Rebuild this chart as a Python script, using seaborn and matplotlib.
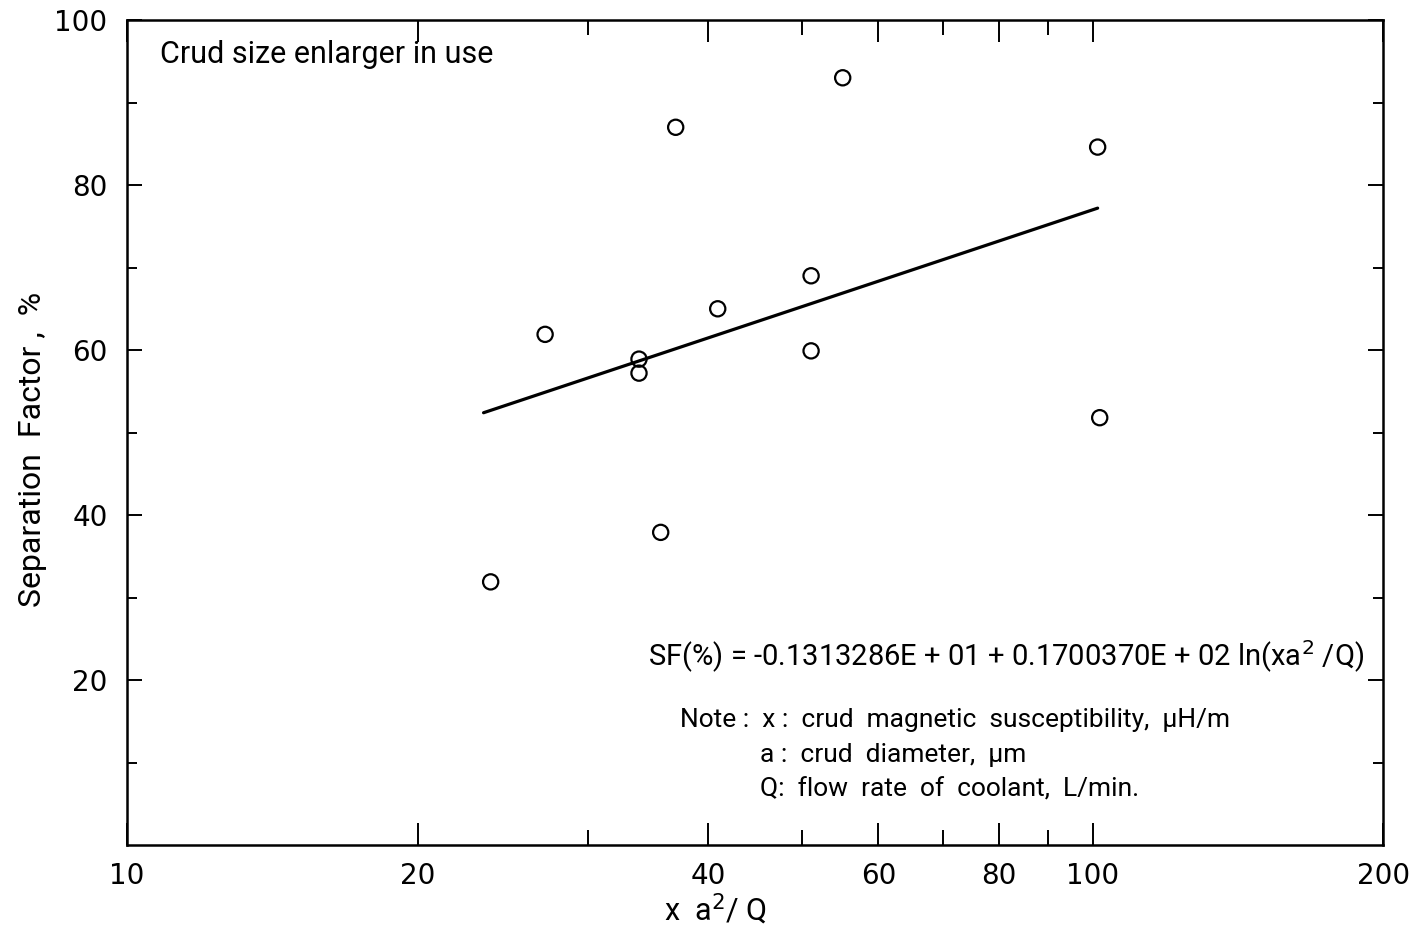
import numpy as np
import pandas as pd
import matplotlib
matplotlib.use("Agg")
import matplotlib.pyplot as plt
from matplotlib.ticker import FixedLocator, NullFormatter
import seaborn as sns

# measured points: x * a^2 / Q  vs separation factor (%)
xa2q = [23.8, 27.1, 33.9, 33.9, 35.7, 37.0, 40.9, 51.1, 51.1, 55.1, 101.2, 101.7]
sep_factor = [31.9, 61.9, 58.9, 57.2, 37.9, 87.0, 65.0, 69.0, 59.9, 93.0, 84.6, 51.8]

# regression line end points
fit_x = [23.4, 101.2]
fit_y = [52.4, 77.2]

x_major = [10, 20, 40, 60, 80, 100, 200]
x_minor = [30, 50, 70, 90]
y_major = [20, 40, 60, 80, 100]
y_minor = [10, 30, 50, 70, 90]

sns.set_style("ticks")
plt.rcParams['font.family'] = ['DejaVu Sans']
plt.rcParams['text.color'] = 'black'
plt.rcParams['axes.labelcolor'] = 'black'
plt.rcParams['xtick.color'] = 'black'
plt.rcParams['ytick.color'] = 'black'
narrow = ['Roboto', 'DejaVu Sans']

df = pd.DataFrame({'x': xa2q, 'sf': sep_factor})
fit = pd.DataFrame({'x': fit_x, 'sf': fit_y})

fig = plt.figure(figsize=(14.13, 9.32), dpi=100)
ax = fig.add_axes([0.0899, 0.0933, 0.8891, 0.8852])

sns.lineplot(data=fit, x='x', y='sf', ax=ax, color='black', linewidth=2.3)
sns.scatterplot(data=df, x='x', y='sf', ax=ax, marker='o', s=120,
                facecolor='none', edgecolor='black', linewidth=1.6)

ax.set_xscale('log')
ax.set_xlim(10, 200)
ax.set_ylim(0, 100)

ax.xaxis.set_major_locator(FixedLocator(x_major))
ax.xaxis.set_minor_locator(FixedLocator(x_minor))
ax.set_xticklabels([str(v) for v in x_major])
ax.xaxis.set_minor_formatter(NullFormatter())
ax.yaxis.set_major_locator(FixedLocator(y_major))
ax.yaxis.set_minor_locator(FixedLocator(y_minor))
ax.set_yticklabels([str(v) for v in y_major])

ax.tick_params(axis='x', which='major', direction='in', length=16, width=1.4,
               top=True, labelsize=20, pad=12)
ax.tick_params(axis='x', which='minor', direction='in', length=11, width=1.4, top=True)
ax.tick_params(axis='y', which='major', direction='in', length=11, width=1.4,
               right=True, labelsize=20, pad=14)
ax.tick_params(axis='y', which='minor', direction='in', length=7, width=1.4, right=True)

for sp in ax.spines.values():
    sp.set_linewidth(1.8)
    sp.set_color('black')

ax.set_xlabel('x  a$^2$/ Q', fontsize=22, family=narrow)
ax.xaxis.set_label_coords(0.468, -0.056)
ax.set_ylabel('Separation  Factor ,  %', fontsize=23, family=narrow)
ax.yaxis.set_label_coords(-0.064, 0.479)

ax.text(0.026, 0.958, 'Crud size enlarger in use', transform=ax.transAxes,
        fontsize=22, family=narrow, va='center', ha='left')
ax.text(0.415, 0.228, 'SF(%) = -0.1313286E + 01 + 0.1700370E + 02 ln(xa$^2$ /Q)',
        transform=ax.transAxes, fontsize=21, family=narrow, va='center', ha='left')
ax.text(0.440, 0.152, 'Note :  x :  crud  magnetic  susceptibility,  \u03bcH/m',
        transform=ax.transAxes, fontsize=19, family=narrow, va='center', ha='left')
ax.text(0.504, 0.109, 'a :  crud  diameter,  \u03bcm',
        transform=ax.transAxes, fontsize=19, family=narrow, va='center', ha='left')
ax.text(0.504, 0.067, 'Q:  flow  rate  of  coolant,  L/min.',
        transform=ax.transAxes, fontsize=19, family=narrow, va='center', ha='left')

fig.savefig('out.png', dpi=100)
